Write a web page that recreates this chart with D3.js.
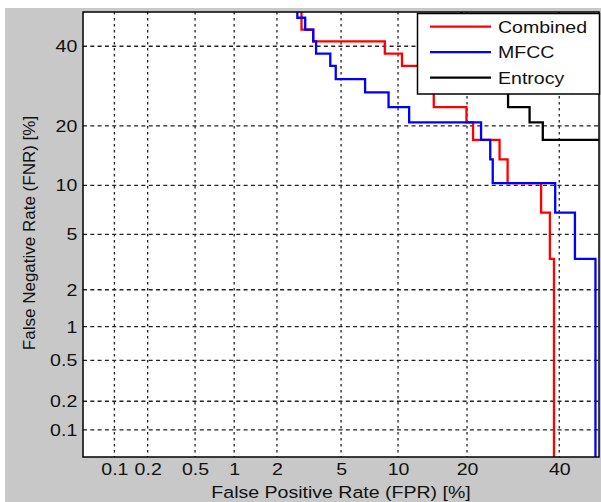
<!DOCTYPE html>
<html>
<head>
<meta charset="utf-8">
<style>
    body { margin: 0; background: #fff; }
    svg { display: block; font-family: 'Liberation Sans', Arial, sans-serif; }
    .x .domain, .y .domain { display: none; }
    .x .tick line, .y .tick line { display: none; }
    .tick text { font-size: 17px; fill: #111; }
    .label { font-size: 17px; fill: #111; }
</style>
</head>
<body>
<svg width="601" height="502"></svg>
<script src="https://d3js.org/d3.v7.min.js"></script>
<script>
    // tick labels (percent)
    const xTicks = [0.1, 0.2, 0.5, 1, 2, 5, 10, 20, 40];
    const yTicks = [0.1, 0.2, 0.5, 1, 2, 5, 10, 20, 40];

    const seriesNames = ["Combined", "MFCC", "Entrocy"];
    const seriesColors = ["#ff0000", "#0000ff", "#000000"];

    // step corners, FPR % / FNR %
    const combinedFPR = [2.89, 2.89, 3.42, 3.42, 8.6, 8.6, 10.45, 10.45, 14.6, 14.6, 19.9, 19.9, 21.1, 21.1, 26.3, 26.3, 28.0, 28.0, 35.6, 35.6, 37.7, 37.7, 38.7, 38.7];
    const combinedFNR = [50, 44.8, 44.8, 41.4, 41.4, 37.9, 37.9, 34.5, 34.5, 24.1, 24.1, 20.7, 20.7, 17.2, 17.2, 13.8, 13.8, 10.3, 10.3, 6.9, 6.9, 3.4, 3.4, 0.05];

    const mfccFPR = [2.72, 2.72, 3.05, 3.05, 3.42, 3.42, 3.56, 3.56, 4.33, 4.33, 4.66, 4.66, 6.79, 6.79, 8.98, 8.98, 11.3, 11.3, 22.6, 22.6, 24.4, 24.4, 24.9, 24.9, 39.0, 39.0, 43.9, 43.9, 49.1, 49.1];
    const mfccFNR = [50, 48.3, 48.3, 44.8, 44.8, 41.4, 41.4, 37.9, 37.9, 34.5, 34.5, 31.0, 31.0, 27.6, 27.6, 24.1, 24.1, 20.7, 20.7, 17.2, 17.2, 13.8, 13.8, 10.3, 10.3, 6.9, 6.9, 3.4, 3.4, 0.05];

    const entrocyFPR = [19.0, 19.0, 24.0, 24.0, 28.1, 28.1, 32.9, 32.9, 36.0, 36.0, 50];
    const entrocyFNR = [50, 41.4, 41.4, 31.0, 31.0, 24.1, 24.1, 20.7, 20.7, 17.2, 17.2];

    // inverse normal cdf (Acklam)
    function probit(p) {
        const a = [-3.969683028665376e+01, 2.209460984245205e+02, -2.759285104469687e+02, 1.383577518672690e+02, -3.066479806614716e+01, 2.506628277459239e+00];
        const b = [-5.447609879822406e+01, 1.615858368580409e+02, -1.556989798598866e+02, 6.680131188771972e+01, -1.328068155288572e+01];
        const c = [-7.784894002430293e-03, -3.223964580411365e-01, -2.400758277161838e+00, -2.549671348589269e+00, 4.374664141464968e+00, 2.938163982698783e+00];
        const d = [7.784695709041462e-03, 3.224671290700398e-01, 2.445134137142996e+00, 3.754408661907416e+00];
        const pl = 0.02425;
        let q, r;
        if (p < pl) {
            q = Math.sqrt(-2 * Math.log(p));
            return (((((c[0]*q+c[1])*q+c[2])*q+c[3])*q+c[4])*q+c[5]) / ((((d[0]*q+d[1])*q+d[2])*q+d[3])*q+1);
        }
        if (p <= 1 - pl) {
            q = p - 0.5; r = q * q;
            return (((((a[0]*r+a[1])*r+a[2])*r+a[3])*r+a[4])*r+a[5])*q / (((((b[0]*r+b[1])*r+b[2])*r+b[3])*r+b[4])*r+1);
        }
        q = Math.sqrt(-2 * Math.log(1 - p));
        return -(((((c[0]*q+c[1])*q+c[2])*q+c[3])*q+c[4])*q+c[5]) / ((((d[0]*q+d[1])*q+d[2])*q+d[3])*q+1);
    }

    const plotL = 83, plotR = 599, plotT = 12, plotB = 457;
    const stretch = "scale(1.15,1)";

    let x = d3.scaleLinear()
        .domain([probit(0.0005), probit(0.5)])
        .range([plotL, plotR]);

    let y = d3.scaleLinear()
        .domain([probit(0.0005), probit(0.5)])
        .range([plotB, plotT]);

    let px = v => x(probit(v / 100));
    let py = v => y(probit(v / 100));

    let svg = d3.select("svg");

    // figure background
    svg.append("rect")
        .attr("x", 5).attr("y", 8)
        .attr("width", 596).attr("height", 494)
        .attr("fill", "#c8c8c8");

    svg.append("rect")
        .attr("x", plotL).attr("y", plotT)
        .attr("width", plotR - plotL).attr("height", plotB - plotT)
        .attr("fill", "#fff");

    svg.append("clipPath").attr("id", "plot")
        .append("rect")
        .attr("x", plotL).attr("y", plotT)
        .attr("width", plotR - plotL).attr("height", plotB - plotT);

    // grid
    svg.append("g")
        .selectAll("line")
        .data(xTicks)
        .join("line")
        .attr("x1", d => px(d)).attr("x2", d => px(d))
        .attr("y1", plotT).attr("y2", plotB)
        .attr("stroke", "#222")
        .attr("stroke-width", 1.3)
        .attr("stroke-dasharray", "2.5 3.5");

    svg.append("g")
        .selectAll("line")
        .data(yTicks)
        .join("line")
        .attr("x1", plotL).attr("x2", plotR)
        .attr("y1", d => py(d)).attr("y2", d => py(d))
        .attr("stroke", "#222")
        .attr("stroke-width", 1.3)
        .attr("stroke-dasharray", "4 3.3");

    // axes (labels only)
    svg.append("g")
        .attr("class", "x axis")
        .attr("transform", `translate(0,${plotB})`)
        .call(d3.axisBottom(x)
            .tickValues(xTicks.map(d => probit(d / 100)))
            .tickFormat((d, i) => xTicks[i])
            .tickSize(0)
            .tickPadding(6))
        .selectAll(".tick text")
        .attr("transform", stretch);

    svg.append("g")
        .attr("class", "y axis")
        .attr("transform", `translate(${plotL},0)`)
        .call(d3.axisLeft(y)
            .tickValues(yTicks.map(d => probit(d / 100)))
            .tickFormat((d, i) => yTicks[i])
            .tickSize(0)
            .tickPadding(5))
        .selectAll(".tick text")
        .attr("transform", stretch);

    // curves
    let series = [
        { name: seriesNames[0], color: seriesColors[0], fpr: combinedFPR, fnr: combinedFNR },
        { name: seriesNames[1], color: seriesColors[1], fpr: mfccFPR, fnr: mfccFNR },
        { name: seriesNames[2], color: seriesColors[2], fpr: entrocyFPR, fnr: entrocyFNR }
    ];

    let line = d3.line()
        .x(d => px(d[0]))
        .y(d => py(d[1]));

    svg.append("g")
        .attr("clip-path", "url(#plot)")
        .selectAll("path")
        .data(series)
        .join("path")
        .attr("d", s => line(s.fpr.map((f, i) => [f, s.fnr[i]])))
        .attr("fill", "none")
        .attr("stroke", s => s.color)
        .attr("stroke-width", 2.3);

    // box
    svg.append("rect")
        .attr("x", plotL).attr("y", plotT)
        .attr("width", plotR - plotL).attr("height", plotB - plotT)
        .attr("fill", "none")
        .attr("stroke", "#000")
        .attr("stroke-width", 1.5);

    // legend
    let legend = svg.append("g");
    legend.append("rect")
        .attr("x", 417.5).attr("y", 13.5)
        .attr("width", 182).attr("height", 80.5)
        .attr("fill", "#fff")
        .attr("stroke", "#000")
        .attr("stroke-width", 1.5);

    series.forEach((s, i) => {
        let ly = 26.7 + i * 25.5;
        legend.append("line")
            .attr("x1", 430).attr("x2", 491)
            .attr("y1", ly).attr("y2", ly)
            .attr("stroke", s.color)
            .attr("stroke-width", 2.3);
        legend.append("text")
            .attr("class", "label")
            .attr("transform", `translate(498,${ly + 6}) ${stretch}`)
            .text(s.name);
    });

    // axis titles
    svg.append("text")
        .attr("class", "label")
        .attr("text-anchor", "middle")
        .attr("transform", `translate(341,498) ${stretch}`)
        .text("False Positive Rate (FPR) [%]");

    svg.append("text")
        .attr("class", "label")
        .attr("text-anchor", "middle")
        .attr("transform", "translate(35,233) rotate(-90)")
        .text("False Negative Rate (FNR) [%]");
</script>
</body>
</html>
